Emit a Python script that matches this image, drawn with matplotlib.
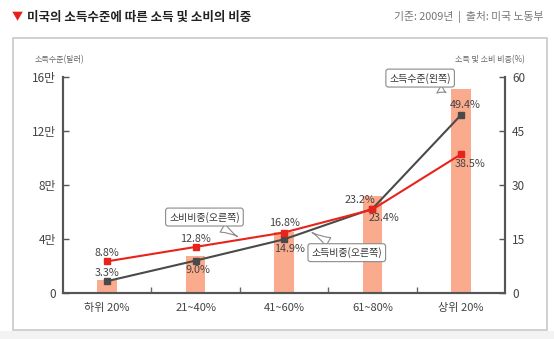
import numpy as np
import matplotlib.pyplot as plt
from matplotlib.patches import Rectangle

plt.rcParams['font.family'] = ['Noto Sans CJK KR', 'DejaVu Sans']

groups = ['하위 20%', '21~40%', '41~60%', '61~80%', '상위 20%']
income = [1.0, 2.74, 4.54, 7.2, 15.1]          # 만 달러
income_share = [3.3, 9.0, 14.9, 23.4, 49.4]    # %
spend_share = [8.8, 12.8, 16.8, 23.2, 38.5]    # %
left_ticks = [0, 4, 8, 12, 16]
left_labels = ['0', '4만', '8만', '12만', '16만']
right_ticks = [0, 15, 30, 45, 60]

# label offsets (points) for each marker
income_off = [(0, 6), (1.5, -7), (4, -7), (8, -6.5), (3, 7)]
spend_off = [(0, 6), (0, 6), (0, 6.5), (-9, 7), (7, -7)]

BAR = '#fbab8d'
RED = '#e8231b'
GRAY = '#4a4a4a'
TXT = '#444444'

fig = plt.figure(figsize=(5.54, 3.39), dpi=100)
W, H = 554, 339

# outer frame and light strip underneath
fig.patches.append(Rectangle((0, 0), 1, 8 / H, transform=fig.transFigure,
                             facecolor='#f3f3f3', edgecolor='none', zorder=0))
fig.patches.append(Rectangle((12.5 / W, (H - 330) / H), (547 - 12.5) / W, (330 - 38) / H,
                             transform=fig.transFigure, fill=False,
                             edgecolor='#c8c8c8', lw=1.2, zorder=1))

# header
fig.text(12 / W, 1 - 17 / H, '▼', color='#e3201b', fontsize=8, va='center')
fig.text(27 / W, 1 - 17 / H, '미국의 소득수준에 따른 소득 및 소비의 비중',
         fontsize=9, weight='bold', color='#222222', va='center')
fig.text(544 / W, 1 - 17 / H, '기준: 2009년  |  출처: 미국 노동부', fontsize=7.8,
         color='#777777', va='center', ha='right')

ax = fig.add_axes([63 / W, (H - 293) / H, (505 - 63) / W, 216 / H])
ax2 = ax.twinx()

x = np.arange(len(groups))
ax.bar(x, income, width=0.22, color=BAR, zorder=2)
ax.set_xlim(-0.5, 4.5)
ax.set_ylim(0, 16)
ax.set_yticks(left_ticks)
ax.set_yticklabels(left_labels)
ax.set_xticks(x)
ax.set_xticklabels(groups)
ax.set_xticks(x[:-1] + 0.5, minor=True)
ax.tick_params(axis='x', which='major', length=0, pad=7, labelsize=8, labelcolor=TXT)
ax.tick_params(axis='x', which='minor', length=4, direction='in', color='#666666', width=1)
ax.tick_params(axis='y', direction='in', length=4, width=1, color='#555555',
               pad=5, labelsize=8.5, labelcolor=TXT)

ax2.set_ylim(0, 60)
ax2.set_yticks(right_ticks)
ax2.tick_params(axis='y', direction='in', length=4, width=1, color='#555555',
                pad=5, labelsize=8.5, labelcolor=TXT)

for a in (ax, ax2):
    a.spines['top'].set_visible(False)
    for s in ('left', 'right', 'bottom'):
        a.spines[s].set_color('#555555')
        a.spines[s].set_linewidth(1.5)

ax2.plot(x, income_share, color=GRAY, lw=1.5, marker='s', ms=4.5, zorder=3)
ax2.plot(x, spend_share, color=RED, lw=1.5, marker='s', ms=4.5, zorder=4)

for xi, v, off in zip(x, income_share, income_off):
    ax2.annotate(f'{v}%', (xi, v), xytext=off, textcoords='offset points',
                 ha='center', va='center', fontsize=7.8, color=TXT, zorder=6)
for xi, v, off in zip(x, spend_share, spend_off):
    ax2.annotate(f'{v}%', (xi, v), xytext=off, textcoords='offset points',
                 ha='center', va='center', fontsize=7.8, color=TXT, zorder=6)

# axis titles
fig.text(35 / W, 1 - 60 / H, '소득수준(달러)', fontsize=5.8, color='#666666', va='center')
fig.text(525 / W, 1 - 60 / H, '소득 및 소비 비중(%)', fontsize=5.8, color='#666666',
         va='center', ha='right')

# speech-bubble callouts
bubble = dict(boxstyle='round,pad=0.35,rounding_size=0.25', fc='white', ec='#8a8a8a', lw=0.8)
tail = dict(arrowstyle='wedge,tail_width=1.0,shrink_factor=0.3', fc='white', ec='#8a8a8a',
            lw=0.8)
ax2.annotate('소득수준(왼쪽)', xy=(3.86, 55.3), xytext=(3.54, 59.7),
             ha='center', va='center', fontsize=7.2, color='#333333',
             bbox=bubble, arrowprops=tail, zorder=7)
ax2.annotate('소비비중(오른쪽)', xy=(1.50, 15.3), xytext=(1.10, 21.1),
             ha='center', va='center', fontsize=7.2, color='#333333',
             bbox=bubble, arrowprops=tail, zorder=7)
ax2.annotate('소득비중(오른쪽)', xy=(2.29, 17.2), xytext=(2.71, 11.2),
             ha='center', va='center', fontsize=7.2, color='#333333',
             bbox=bubble, arrowprops=tail, zorder=7)

fig.savefig('out.png', dpi=100)
